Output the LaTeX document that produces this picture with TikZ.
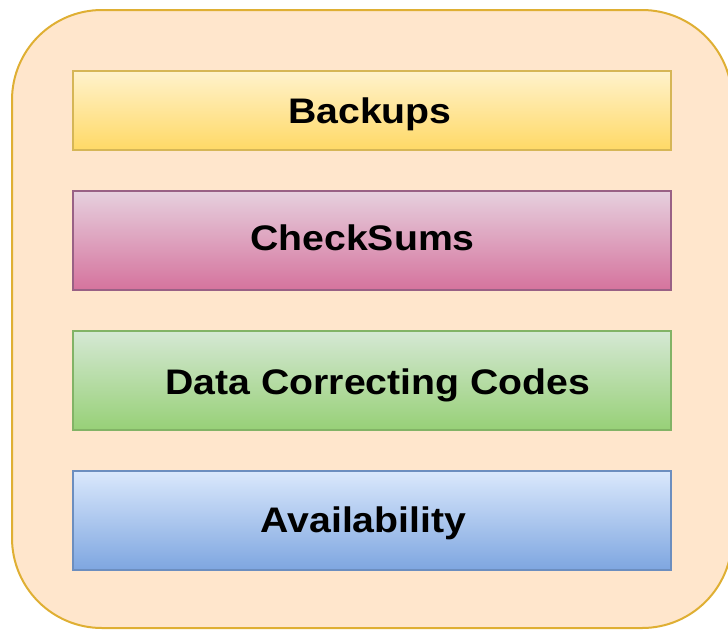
\documentclass[tikz,border=0pt]{standalone}
\usepackage{fontspec}
\setmainfont{Liberation Sans}
\definecolor{outerfill}{HTML}{FFE6CC}
\definecolor{outerline}{HTML}{D79B00}
\definecolor{yelTop}{HTML}{FFF2CC}
\definecolor{yelBot}{HTML}{FFD966}
\definecolor{yelLine}{HTML}{D6B656}
\definecolor{pinkTop}{HTML}{E6D0DE}
\definecolor{pinkBot}{HTML}{D5739D}
\definecolor{pinkLine}{HTML}{996185}
\definecolor{grnTop}{HTML}{D5E8D4}
\definecolor{grnBot}{HTML}{97D077}
\definecolor{grnLine}{HTML}{82B366}
\definecolor{bluTop}{HTML}{DAE8FC}
\definecolor{bluBot}{HTML}{7EA6E0}
\definecolor{bluLine}{HTML}{6C8EBF}
\tikzset{
  layer/.style={draw, line width=2pt, minimum width=598pt, inner sep=0pt, anchor=north west},
  layertext/.style={anchor=base, inner sep=0pt, font=\bfseries\fontsize{35.5}{40}\selectfont, xscale=1.105, transform shape},
}
\begin{document}
\begin{tikzpicture}[x=1pt, y=-1pt]
  \useasboundingbox (0,0) rectangle (728,630);
  \clip (0,0) rectangle (728,630);
  % outer container
  \draw[fill=outerfill, draw=outerline!80, line width=2pt, rounded corners=90pt]
    (12,10) rectangle (732,628);
  % stacked layers
  \node[layer, minimum height=79pt, top color=yelTop, bottom color=yelBot, draw=yelLine] (backups) at (72,70) {};
  \node[layer, minimum height=99pt, top color=pinkTop, bottom color=pinkBot, draw=pinkLine] (checksums) at (72,190) {};
  \node[layer, minimum height=99pt, top color=grnTop, bottom color=grnBot, draw=grnLine] (codes) at (72,330) {};
  \node[layer, minimum height=99pt, top color=bluTop, bottom color=bluBot, draw=bluLine] (avail) at (72,470) {};
  % labels
  \node[layertext] (backupsT) at (370,123) {Backups};
  \node[layertext] (checksumsT) at (362.5,250) {CheckSums};
  \node[layertext] (codesT) at (378,394) {Data Correcting Codes};
  \node[layertext] (availT) at (363.5,532) {Availability};
\end{tikzpicture}
\end{document}
